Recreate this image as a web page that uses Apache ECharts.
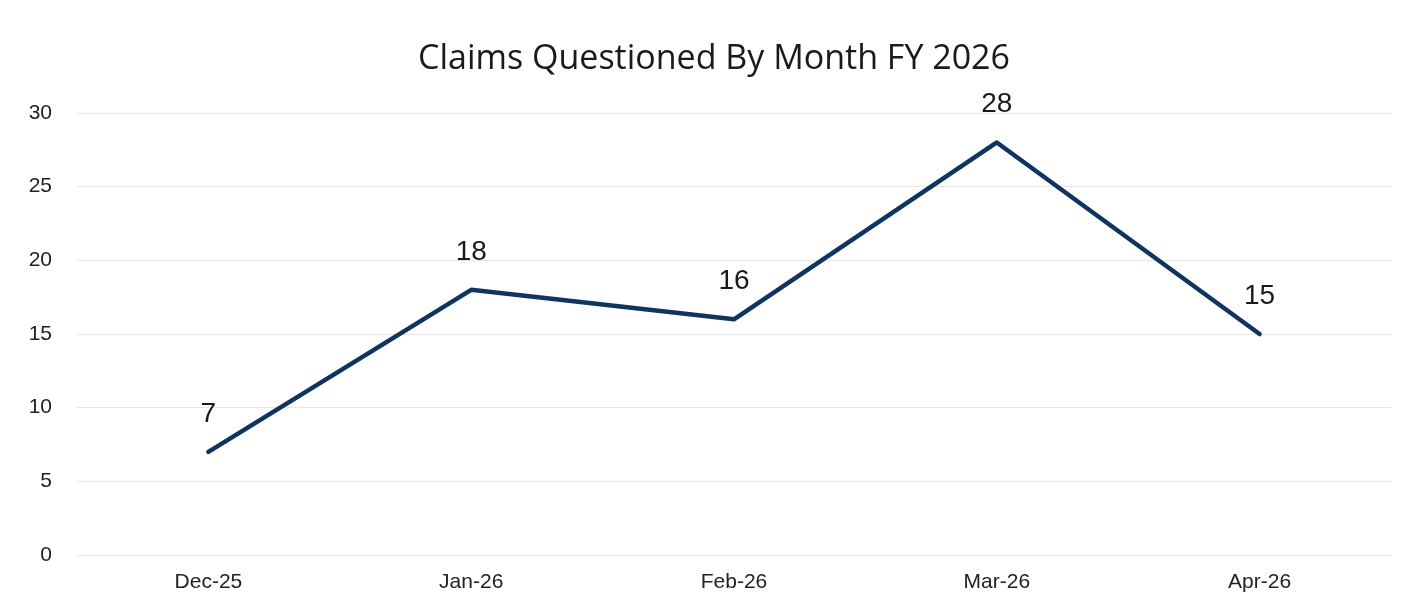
<!DOCTYPE html>
<html>
<head>
<meta charset="utf-8">
<script src="https://cdn.jsdelivr.net/npm/echarts@6/dist/echarts.min.js"></script>
<style>
html,body{margin:0;padding:0;background:#fff;}
#c{width:1428px;height:615px;}
</style>
</head>
<body>
<div id="c"></div>
<script>
const categories = ['Dec-25', 'Jan-26', 'Feb-26', 'Mar-26', 'Apr-26'];
const claimsQuestioned = [7, 18, 16, 28, 15];
const yTicks = { min: 0, max: 30, interval: 5 };

const chart = echarts.init(document.getElementById('c'), null, { renderer: 'canvas' });
chart.setOption({
  backgroundColor: '#ffffff',
  animation: false,
  title: {
    text: 'Claims Questioned By Month FY 2026',
    left: 'center',
    top: 37,
    textStyle: { fontFamily: 'Open Sans', fontSize: 34, fontWeight: 'normal', color: '#1a1a1a' }
  },
  grid: { left: 77, right: 37, top: 113, bottom: 60, containLabel: false },
  xAxis: {
    type: 'category',
    data: categories,
    boundaryGap: true,
    axisLine: { show: true, lineStyle: { color: '#e6e6e6', width: 1 } },
    axisTick: { show: false },
    axisLabel: { color: '#222', fontFamily: 'Liberation Sans', fontSize: 21, margin: 17 }
  },
  yAxis: {
    type: 'value',
    min: yTicks.min,
    max: yTicks.max,
    interval: yTicks.interval,
    axisLine: { show: false },
    axisTick: { show: false },
    splitLine: { lineStyle: { color: '#e6e6e6', width: 1 } },
    axisLabel: { color: '#222', fontFamily: 'Liberation Sans', fontSize: 21, margin: 25 }
  },
  series: [{
    type: 'line',
    data: claimsQuestioned,
    symbol: 'circle',
    symbolSize: 2,
    showSymbol: true,
    itemStyle: { color: '#0f3460', borderWidth: 0 },
    lineStyle: { color: '#0f3460', width: 4.5, join: 'round', cap: 'round' },
    label: {
      show: true,
      position: 'top',
      distance: 23,
      color: '#1a1a1a',
      fontFamily: 'Liberation Sans',
      fontSize: 28
    }
  }]
});
</script>
</body>
</html>
